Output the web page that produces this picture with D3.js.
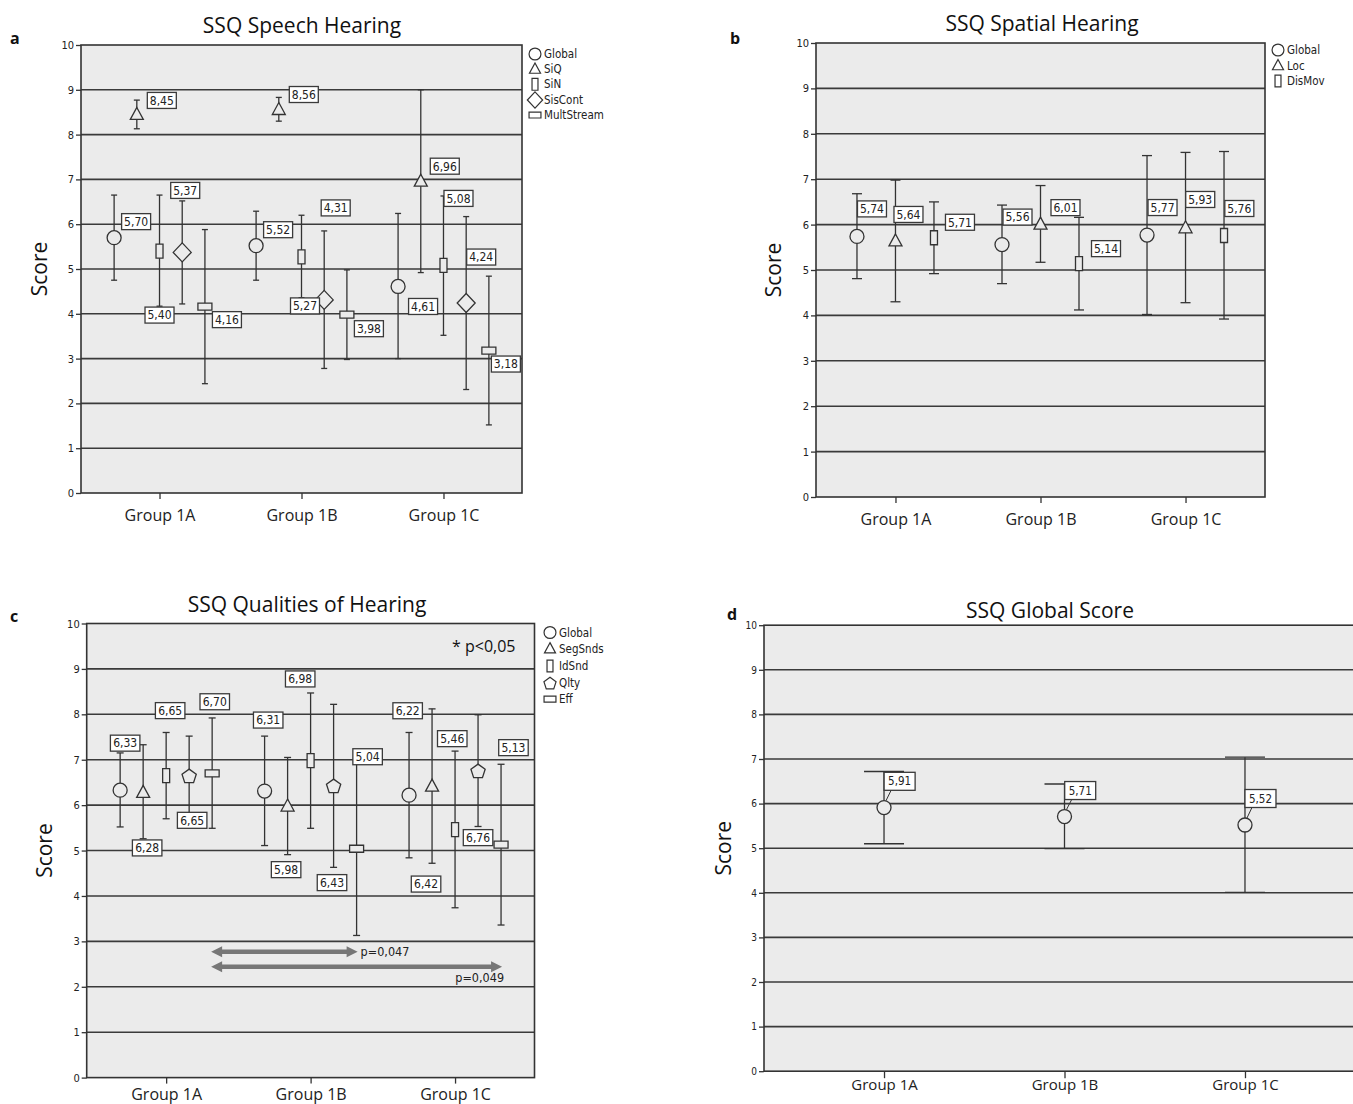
<!DOCTYPE html>
<html>
<head>
<meta charset="utf-8">
<script src="https://cdnjs.cloudflare.com/ajax/libs/d3/7.8.5/d3.min.js"></script>
<style>
  body { margin: 0; background: #fff; }
  svg { display: block; }
</style>
</head>
<body>
<script>
// ---- data ----
const groups = ["Group 1A", "Group 1B", "Group 1C"];
const yTicks = d3.range(0, 11);

// a: SSQ Speech Hearing (rows = groups, cols = series)
const speechSeries = ["Global", "SiQ", "SiN", "SisCont", "MultStream"];
const speechMean = [
  [5.70, 8.45, 5.40, 5.37, 4.16],
  [5.52, 8.56, 5.27, 4.31, 3.98],
  [4.61, 6.96, 5.08, 4.24, 3.18]
];
const speechLow = [
  [4.75, 8.13, 4.17, 4.22, 2.44],
  [4.75, 8.30, 4.36, 2.78, 2.98],
  [3.00, 4.92, 3.52, 2.31, 1.52]
];
const speechHigh = [
  [6.65, 8.77, 6.65, 6.52, 5.88],
  [6.29, 8.83, 6.20, 5.85, 4.98],
  [6.24, 9.00, 6.63, 6.17, 4.84]
];

// b: SSQ Spatial Hearing
const spatialSeries = ["Global", "Loc", "DisMov"];
const spatialMean = [
  [5.74, 5.64, 5.71],
  [5.56, 6.01, 5.14],
  [5.77, 5.93, 5.76]
];
const spatialLow = [
  [4.81, 4.30, 4.92],
  [4.70, 5.17, 4.12],
  [4.02, 4.28, 3.92]
];
const spatialHigh = [
  [6.68, 6.98, 6.50],
  [6.43, 6.86, 6.16],
  [7.52, 7.59, 7.61]
];

// c: SSQ Qualities of Hearing
const qualSeries = ["Global", "SegSnds", "IdSnd", "Qlty", "Eff"];
const qualMean = [
  [6.33, 6.28, 6.65, 6.65, 6.70],
  [6.31, 5.98, 6.98, 6.43, 5.04],
  [6.22, 6.42, 5.46, 6.76, 5.13]
];
const qualLow = [
  [5.52, 5.26, 5.70, 5.79, 5.49],
  [5.11, 4.91, 5.49, 4.63, 3.13],
  [4.84, 4.72, 3.74, 5.53, 3.36]
];
const qualHigh = [
  [7.15, 7.33, 7.60, 7.52, 7.92],
  [7.52, 7.05, 8.47, 8.22, 6.95],
  [7.60, 8.12, 7.19, 7.99, 6.90]
];
const qualSig = [
  { from: 0, to: 1, series: 4, level: 2.77, label: "p=0,047" },
  { from: 0, to: 2, series: 4, level: 2.44, label: "p=0,049" }
];

// d: SSQ Global Score
const globalSeries = ["Global"];
const globalMean = [5.91, 5.71, 5.52];
const globalLow = [5.10, 4.99, 4.01];
const globalHigh = [6.72, 6.44, 7.04];

// ---- layout: where each value box sits relative to its marker ----
const speechLabelPos = [
  [[22, -16], [25, -14], [0, 64], [3, -62], [22, 13]],
  [[22, -16], [25, -15], [3.5, 49], [11.5, -92], [22, 14]],
  [[25, 20], [24, -15], [15, -67], [15, -46], [17, 13.5]]
];
const spatialLabelPos = [
  [[15, -27.5], [13, -26.5], [26, -15.5]],
  [[15.5, -27.5], [25, -16.5], [27, -15]],
  [[15.5, -27.5], [14.7, -28.3], [15.3, -27]]
];
const qualLabelPos = [
  [[5, -47], [4, 55.5], [4, -65], [3, 44.7], [2.6, -71.6]],
  [[3.6, -71], [-1.5, 63.6], [-10.4, -81.7], [-1.6, 97], [11, -92]],
  [[-1.4, -84.4], [-6, 98], [-2.8, -91], [0, 67], [12.4, -97]]
];
const globalLabelPos = [[[15.6, -26.3]], [[15.7, -26]], [[15.5, -26.5]]];

const W = 1353, H = 1104;
const sans = "'Open Sans', 'Liberation Sans', sans-serif";
const cond = "'Liberation Sans Narrow', 'DejaVu Sans Condensed', 'Liberation Sans', sans-serif";
const ink = "#333";
const plotBg = "#ebebeb";
const fmt = v => d3.format(".2f")(v).replace(".", ",");

const svg = d3.select("body").append("svg")
  .attr("width", W)
  .attr("height", H);

// marker outlines, centred on 0,0
function shapePath(kind, k) {
  k = k || 1;
  if (kind === "circle") {
    const p = d3.path();
    p.arc(0, 0, 7 * k, 0, 2 * Math.PI);
    return p.toString();
  }
  if (kind === "triangle") {
    const w = 6.5 * k, t = 7 * k, b = 5 * k;
    return `M0,${-t}L${w},${b}L${-w},${b}Z`;
  }
  if (kind === "tall") {
    const w = 3.5 * k, h = 7 * k;
    return `M${-w},${-h}H${w}V${h}H${-w}Z`;
  }
  if (kind === "wide") {
    const w = 7 * k, h = 3.5 * k;
    return `M${-w},${-h}H${w}V${h}H${-w}Z`;
  }
  if (kind === "diamond") {
    const w = 9 * k, h = 9.5 * k;
    return `M0,${-h}L${w},0L0,${h}L${-w},0Z`;
  }
  if (kind === "pentagon") {
    const r = 7.5 * k;
    const pts = d3.range(5).map(i => {
      const a = -Math.PI / 2 + i * 2 * Math.PI / 5;
      return [r * Math.cos(a), r * Math.sin(a) + 1];
    });
    return "M" + pts.map(p => p.join(",")).join("L") + "Z";
  }
}

function drawPanel(o) {
  const g = svg.append("g");
  const x0 = d3.scalePoint().domain(groups).range([o.left, o.right]).padding(o.pad);
  const x1 = d3.scalePoint().domain(o.series).range([-o.spread, o.spread]);
  const y = d3.scaleLinear().domain([0, 10]).range([o.bottom, o.top]);

  g.append("rect")
    .attr("x", o.left).attr("y", o.top)
    .attr("width", o.right - o.left).attr("height", o.bottom - o.top)
    .attr("fill", plotBg);

  g.append("g").selectAll("line")
    .data(yTicks.slice(1, 10))
    .join("line")
    .attr("x1", o.left).attr("x2", o.right)
    .attr("y1", d => y(d)).attr("y2", d => y(d))
    .attr("stroke", "#3a3a3a").attr("stroke-width", 1.6);

  g.append("rect")
    .attr("x", o.left).attr("y", o.top)
    .attr("width", o.right - o.left).attr("height", o.bottom - o.top)
    .attr("fill", "none").attr("stroke", ink).attr("stroke-width", 1.6);

  // y axis
  const ya = g.append("g")
    .attr("transform", `translate(${o.left},0)`)
    .call(d3.axisLeft(y).tickValues(yTicks).tickSize(5).tickPadding(2).tickFormat(d3.format("d")));
  ya.select(".domain").remove();
  ya.selectAll("line").attr("stroke", ink).attr("stroke-width", 1.3);
  ya.selectAll("text")
    .attr("font-family", cond).attr("font-size", o.tickFont).attr("fill", "#222");

  // x axis
  const xa = g.append("g")
    .attr("transform", `translate(0,${o.bottom})`)
    .call(d3.axisBottom(x0).tickSize(o.xTick));
  xa.select(".domain").remove();
  xa.selectAll("line").attr("stroke", ink).attr("stroke-width", 1.3);
  xa.selectAll("text")
    .attr("y", o.groupDy).attr("dy", "0.35em")
    .attr("font-family", sans).attr("font-size", o.groupFont).attr("fill", "#222");

  // title, panel letter, y label
  svg.append("text")
    .attr("x", o.titleX).attr("y", o.titleY)
    .attr("text-anchor", "middle")
    .attr("font-family", sans).attr("font-size", 21).attr("fill", "#111")
    .text(o.title);
  svg.append("text")
    .attr("x", o.letterX).attr("y", o.letterY)
    .attr("font-family", sans).attr("font-size", 16).attr("font-weight", "bold").attr("fill", "#111")
    .text(o.letter);
  svg.append("text")
    .attr("transform", `translate(${o.scoreX},${(o.top + o.bottom) / 2}) rotate(-90)`)
    .attr("text-anchor", "middle")
    .attr("font-family", sans).attr("font-size", 21).attr("fill", "#111")
    .text("Score");

  const pts = groups.flatMap((gn, gi) => o.series.map((s, si) => ({
    gi, si,
    x: x0(gn) + x1(s),
    m: o.mean[gi][si], lo: o.low[gi][si], hi: o.high[gi][si],
    off: o.labelPos[gi][si],
    shape: o.shapes[si]
  })));

  // error bars
  const eb = g.append("g").attr("stroke", ink).attr("stroke-width", 1.3);
  eb.selectAll(".stem").data(pts).join("line")
    .attr("x1", d => d.x).attr("x2", d => d.x)
    .attr("y1", d => y(d.lo)).attr("y2", d => y(d.hi));
  eb.selectAll(".capHi").data(pts).join("line")
    .attr("x1", d => d.x - o.cap / 2).attr("x2", d => d.x + o.cap / 2)
    .attr("y1", d => y(d.hi)).attr("y2", d => y(d.hi));
  eb.selectAll(".capLo").data(pts).join("line")
    .attr("x1", d => d.x - o.cap / 2).attr("x2", d => d.x + o.cap / 2)
    .attr("y1", d => y(d.lo)).attr("y2", d => y(d.lo));

  // markers
  g.append("g").selectAll("path").data(pts).join("path")
    .attr("transform", d => `translate(${d.x},${y(d.m)})`)
    .attr("d", d => shapePath(d.shape))
    .attr("fill", plotBg).attr("stroke", ink).attr("stroke-width", 1.3);

  // value boxes
  const bw = o.boxW, bh = o.boxH;
  if (o.leader) {
    g.append("g").selectAll("line").data(pts).join("line")
      .attr("x1", d => d.x + 2).attr("y1", d => y(d.m) - 7)
      .attr("x2", d => d.x + d.off[0] - bw / 2 + 7).attr("y2", d => y(d.m) + d.off[1] + bh / 2)
      .attr("stroke", ink).attr("stroke-width", 1);
  }
  const lb = g.append("g").selectAll("g").data(pts).join("g")
    .attr("transform", d => `translate(${d.x + d.off[0]},${y(d.m) + d.off[1]})`);
  lb.append("rect")
    .attr("x", -bw / 2).attr("y", -bh / 2).attr("width", bw).attr("height", bh)
    .attr("fill", "#fff").attr("stroke", "#3a3a3a").attr("stroke-width", 1.3);
  lb.append("text")
    .attr("text-anchor", "middle").attr("dy", "0.36em")
    .attr("font-family", cond).attr("font-size", o.boxFont).attr("fill", "#222")
    .text(d => fmt(d.m));

  // legend
  if (o.legendX) {
    const lg = svg.append("g");
    o.series.forEach((s, i) => {
      const ly = o.legendY[i];
      lg.append("path")
        .attr("transform", `translate(${o.legendX},${ly})`)
        .attr("d", shapePath(o.shapes[i], 0.85))
        .attr("fill", "#fff").attr("stroke", ink).attr("stroke-width", 1.2);
      lg.append("text")
        .attr("x", o.legendX + 9).attr("y", ly).attr("dy", "0.35em")
        .attr("font-family", cond).attr("font-size", 11.5).attr("fill", "#222")
        .text(s);
    });
  }

  return { g, x0, x1, y };
}

// a
drawPanel({
  title: "SSQ Speech Hearing", titleX: 302, titleY: 33,
  letter: "a", letterX: 10, letterY: 44, scoreX: 47,
  left: 81, right: 522, top: 45, bottom: 493, pad: 0.553, spread: 45.4,
  series: speechSeries, shapes: ["circle", "triangle", "tall", "diamond", "wide"],
  mean: speechMean, low: speechLow, high: speechHigh, labelPos: speechLabelPos,
  cap: 6, boxW: 29, boxH: 16, boxFont: 12, tickFont: 11,
  xTick: 6, groupDy: 22.5, groupFont: 16,
  legendX: 535, legendY: [54, 69, 84.3, 100, 115]
});

// b
drawPanel({
  title: "SSQ Spatial Hearing", titleX: 1042, titleY: 31,
  letter: "b", letterX: 730, letterY: 44, scoreX: 781,
  left: 816, right: 1265, top: 43, bottom: 497, pad: 0.548, spread: 38.5,
  series: spatialSeries, shapes: ["circle", "triangle", "tall"],
  mean: spatialMean, low: spatialLow, high: spatialHigh, labelPos: spatialLabelPos,
  cap: 10, boxW: 29, boxH: 16, boxFont: 12, tickFont: 11,
  xTick: 6, groupDy: 22, groupFont: 16,
  legendX: 1278, legendY: [50, 65.5, 81]
});

// c
const pc = drawPanel({
  title: "SSQ Qualities of Hearing", titleX: 307, titleY: 612,
  letter: "c", letterX: 10, letterY: 622, scoreX: 52,
  left: 86.7, right: 534.5, top: 623.5, bottom: 1077.6, pad: 0.55, spread: 46,
  series: qualSeries, shapes: ["circle", "triangle", "tall", "pentagon", "wide"],
  mean: qualMean, low: qualLow, high: qualHigh, labelPos: qualLabelPos,
  cap: 7, boxW: 29.5, boxH: 16, boxFont: 12, tickFont: 11,
  xTick: 6, groupDy: 16.5, groupFont: 16,
  legendX: 550, legendY: [632.5, 648.6, 666, 682.7, 699.1]
});

svg.append("text")
  .attr("x", 452).attr("y", 646).attr("dy", "0.35em")
  .attr("font-family", sans).attr("font-size", 16).attr("fill", "#111")
  .text("* p<0,05");

// significance arrows in c
const arrowCol = "#777";
qualSig.forEach(s => {
  const xa = pc.x0(groups[s.from]) + pc.x1(qualSeries[s.series]) - 1;
  const xb = pc.x0(groups[s.to]) + pc.x1(qualSeries[s.series]) + 1;
  const yy = pc.y(s.level);
  svg.append("line")
    .attr("x1", xa + 8).attr("x2", xb - 8).attr("y1", yy).attr("y2", yy)
    .attr("stroke", arrowCol).attr("stroke-width", 4.5);
  svg.append("path")
    .attr("d", `M${xa},${yy}L${xa + 11},${yy - 5.5}L${xa + 11},${yy + 5.5}Z`)
    .attr("fill", arrowCol);
  svg.append("path")
    .attr("d", `M${xb},${yy}L${xb - 11},${yy - 5.5}L${xb - 11},${yy + 5.5}Z`)
    .attr("fill", arrowCol);
  const onSide = s.to === 1;
  svg.append("text")
    .attr("x", onSide ? xb + 3 : xb + 2)
    .attr("y", onSide ? yy : yy + 10.5).attr("dy", "0.35em")
    .attr("text-anchor", onSide ? "start" : "end")
    .attr("font-family", cond).attr("font-size", 12.5).attr("fill", "#222")
    .text(s.label);
});

// d
drawPanel({
  title: "SSQ Global Score", titleX: 1050, titleY: 618,
  letter: "d", letterX: 727, letterY: 620, scoreX: 731,
  left: 764, right: 1365, top: 625.2, bottom: 1071.2, pad: 0.665, spread: 0,
  series: globalSeries, shapes: ["circle"],
  mean: globalMean.map(v => [v]), low: globalLow.map(v => [v]), high: globalHigh.map(v => [v]),
  labelPos: globalLabelPos, leader: true,
  cap: 40, boxW: 31, boxH: 18, boxFont: 11.5, tickFont: 10,
  xTick: 7, groupDy: 14, groupFont: 15
});
</script>
</body>
</html>
